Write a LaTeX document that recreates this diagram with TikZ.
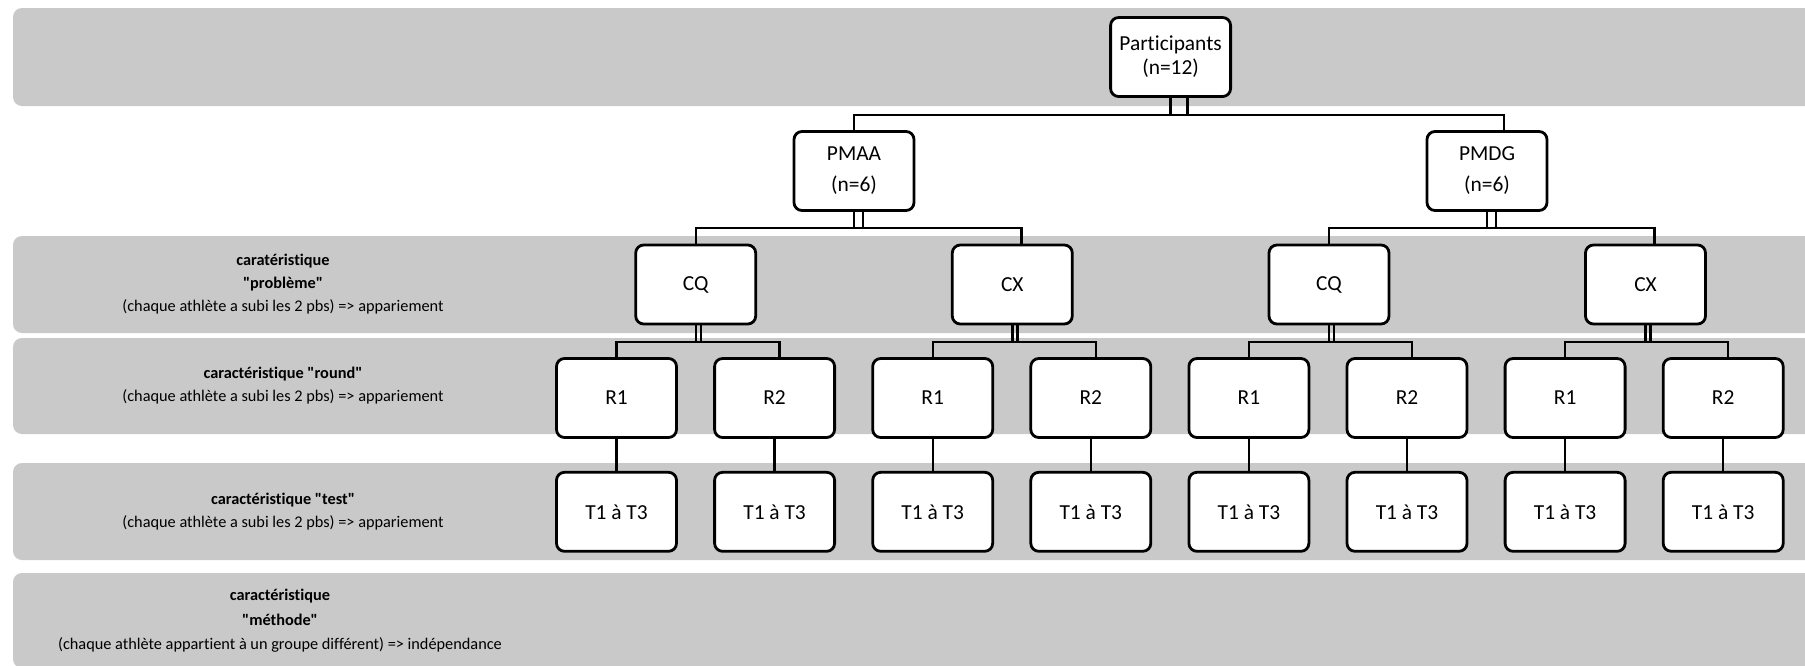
\documentclass[tikz,border=0pt]{standalone}
\usepackage{fontspec}
\setmainfont{Carlito}[Ligatures={TeXOff,CommonOff}]
\usetikzlibrary{positioning}
\definecolor{bandc}{HTML}{C9C9C9}
\tikzset{
  box/.style={draw, line width=2.8pt, rounded corners=8pt, fill=white, minimum width=120pt, minimum height=79pt, inner sep=2pt, align=center, font=\fontsize{21.4}{24}\selectfont},
  band/.style={fill=bandc, rounded corners=9pt},
  lbl/.style={align=center, font=\fontsize{16.3}{23}\selectfont},
  wire/.style={line width=2.4pt},
}

\begin{document}
\begin{tikzpicture}[x=1pt, y=-1pt, node distance=32pt and 35.3pt]
  \clip (0,0) rectangle (1805,665);
  % grey bands
  \fill[band] (13,8) rectangle (1830,106);
  \fill[band] (13,236) rectangle (1830,333);
  \fill[band] (13,338) rectangle (1830,434);
  \fill[band] (13,463) rectangle (1830,560);
  \fill[band] (13,573) rectangle (1830,668);
  \node[lbl] (lprob) at (283,284.5) {\textbf{caratéristique}\\\textbf{"problème"}\\(chaque athlète a subi les 2 pbs) => appariement};
  \node[lbl] (lround) at (283,386) {\textbf{caractéristique "round"}\\(chaque athlète a subi les 2 pbs) => appariement};
  \node[lbl] (ltest) at (283,512) {\textbf{caractéristique "test"}\\(chaque athlète a subi les 2 pbs) => appariement};
  \node[lbl, font=\fontsize{16.3}{24.5}\selectfont] (lmeth) at (280,621) {\textbf{caractéristique}\\\textbf{"méthode"}\\(chaque athlète appartient à un groupe différent) => indépendance};
  % tree
  \node[box] (part) at (1170.6,57) {Participants\\(n=12)};
  \node[box] (pmaa) at (854,171) {PMAA\\[7pt](n=6)};
  \node[box] (pmdg) at (1487,171) {PMDG\\[7pt](n=6)};
  \node[box] (cqa) at (695.7,284.5) {CQ};
  \node[box] (cxa) at (1012.3,284.5) {CX};
  \node[box] (cqb) at (1329,284.5) {CQ};
  \node[box] (cxb) at (1645.5,284.5) {CX};
  \node[box] (ra1) at (616.5,398) {R1};
  \node[box, right=of ra1] (ra2) {R2};
  \node[box, right=of ra2] (rb1) {R1};
  \node[box, right=of rb1] (rb2) {R2};
  \node[box, right=of rb2] (rc1) {R1};
  \node[box, right=of rc1] (rc2) {R2};
  \node[box, right=of rc2] (rd1) {R1};
  \node[box, right=of rd1] (rd2) {R2};
  \foreach \n in {a1,a2,b1,b2,c1,c2,d1,d2} {
    \node[box, below=of r\n] (t\n) {T1 à T3};
    \draw[wire] (r\n) -- (t\n);
  }
  \coordinate (bus1) at (0,115);
  \coordinate (bus2) at (0,228);
  \coordinate (bus3) at (0,342);
  \foreach \p/\l/\r/\d/\b in {part/pmaa/pmdg/17pt/bus1, pmaa/cqa/cxa/9pt/bus2, pmdg/cqb/cxb/9pt/bus2,
      cqa/ra1/ra2/5pt/bus3, cxa/rb1/rb2/5pt/bus3, cqb/rc1/rc2/5pt/bus3, cxb/rd1/rd2/5pt/bus3} {
    \draw[wire] (\l.north) -- (\l.north |- \b) -- ([xshift=\d]\r.north |- \b) -- ([xshift=\d]\r.north);
    \draw[wire] (\p.south) -- (\p.south |- \b);
    \draw[wire] ([xshift=\d]\p.south) -- ([xshift=\d]\p.south |- \b);
  }
\end{tikzpicture}
\end{document}
